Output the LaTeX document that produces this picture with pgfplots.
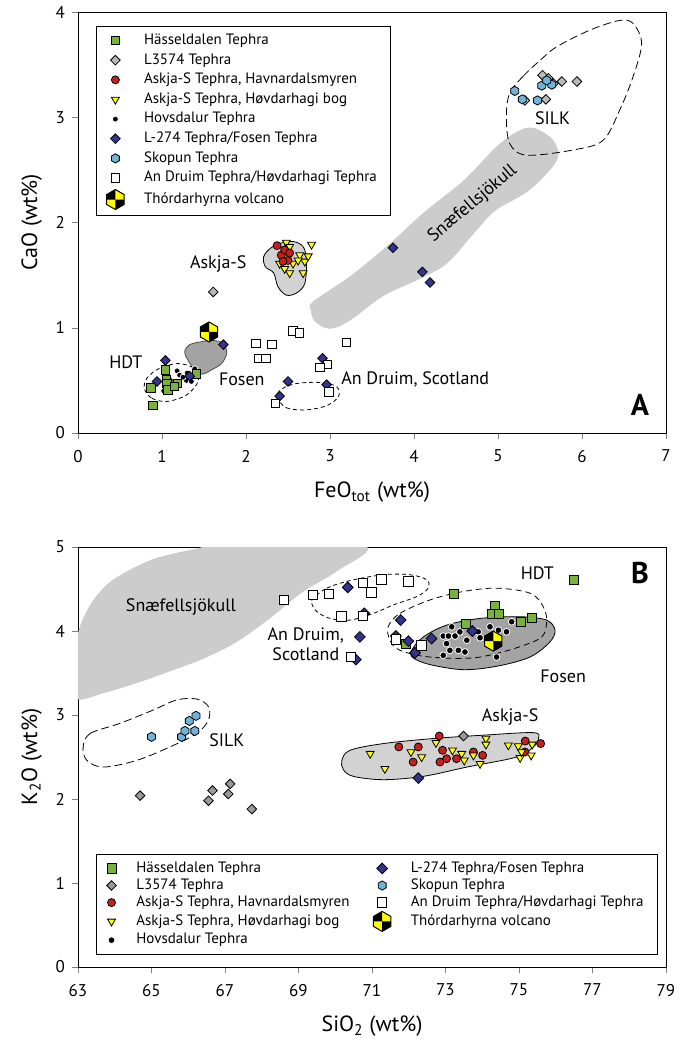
\documentclass[border=0pt]{standalone}
\usepackage{fontspec}
\setmainfont{PT Sans}
\usepackage{pgfplots}
\pgfplotsset{compat=1.18}
\usetikzlibrary{plotmarks}

\definecolor{hgreen}{RGB}{118,178,60}
\definecolor{askred}{RGB}{200,30,30}
\definecolor{askyel}{RGB}{255,255,0}
\definecolor{fosblue}{RGB}{52,52,140}
\definecolor{skoblue}{RGB}{110,180,215}
\definecolor{lgray}{RGB}{210,210,210}
\definecolor{bandgray}{RGB}{204,204,204}
\definecolor{dgray}{RGB}{163,163,163}

% pointy-top hexagon
\pgfdeclareplotmark{hexagon*}{%
  \pgfpathmoveto{\pgfqpoint{0pt}{\pgfplotmarksize}}%
  \pgfpathlineto{\pgfqpoint{-0.866\pgfplotmarksize}{0.5\pgfplotmarksize}}%
  \pgfpathlineto{\pgfqpoint{-0.866\pgfplotmarksize}{-0.5\pgfplotmarksize}}%
  \pgfpathlineto{\pgfqpoint{0pt}{-\pgfplotmarksize}}%
  \pgfpathlineto{\pgfqpoint{0.866\pgfplotmarksize}{-0.5\pgfplotmarksize}}%
  \pgfpathlineto{\pgfqpoint{0.866\pgfplotmarksize}{0.5\pgfplotmarksize}}%
  \pgfpathclose
  \pgfusepathqfillstroke}

% volcano symbol: quartered hexagon
\pgfdeclareplotmark{thord}{%
  \pgfpathmoveto{\pgfqpoint{0pt}{\pgfplotmarksize}}%
  \pgfpathlineto{\pgfqpoint{-0.866\pgfplotmarksize}{0.5\pgfplotmarksize}}%
  \pgfpathlineto{\pgfqpoint{-0.866\pgfplotmarksize}{-0.5\pgfplotmarksize}}%
  \pgfpathlineto{\pgfqpoint{0pt}{-\pgfplotmarksize}}%
  \pgfpathlineto{\pgfqpoint{0.866\pgfplotmarksize}{-0.5\pgfplotmarksize}}%
  \pgfpathlineto{\pgfqpoint{0.866\pgfplotmarksize}{0.5\pgfplotmarksize}}%
  \pgfpathclose
  \pgfsetfillcolor{askyel}\pgfusepathqfill
  \pgfpathmoveto{\pgfpointorigin}%
  \pgfpathlineto{\pgfqpoint{0pt}{\pgfplotmarksize}}%
  \pgfpathlineto{\pgfqpoint{-0.866\pgfplotmarksize}{0.5\pgfplotmarksize}}%
  \pgfpathlineto{\pgfqpoint{-0.866\pgfplotmarksize}{0pt}}%
  \pgfpathclose
  \pgfpathmoveto{\pgfpointorigin}%
  \pgfpathlineto{\pgfqpoint{0pt}{-\pgfplotmarksize}}%
  \pgfpathlineto{\pgfqpoint{0.866\pgfplotmarksize}{-0.5\pgfplotmarksize}}%
  \pgfpathlineto{\pgfqpoint{0.866\pgfplotmarksize}{0pt}}%
  \pgfpathclose
  \pgfsetfillcolor{black}\pgfusepathqfill
  \pgfpathmoveto{\pgfqpoint{0pt}{\pgfplotmarksize}}%
  \pgfpathlineto{\pgfqpoint{-0.866\pgfplotmarksize}{0.5\pgfplotmarksize}}%
  \pgfpathlineto{\pgfqpoint{-0.866\pgfplotmarksize}{-0.5\pgfplotmarksize}}%
  \pgfpathlineto{\pgfqpoint{0pt}{-\pgfplotmarksize}}%
  \pgfpathlineto{\pgfqpoint{0.866\pgfplotmarksize}{-0.5\pgfplotmarksize}}%
  \pgfpathlineto{\pgfqpoint{0.866\pgfplotmarksize}{0.5\pgfplotmarksize}}%
  \pgfpathclose
  \pgfusepathqstroke}

\tikzset{lab/.style={font=\fontsize{9}{10}\selectfont}}

\pgfplotsset{
  panel/.style={
    scale only axis, width=294pt,
    tick align=outside, tick pos=left, major tick length=3pt,
    tick label style={font=\fontsize{8.5}{9.5}\selectfont},
    xticklabel style={yshift=-2pt},
    label style={font=\fontsize{11}{12}\selectfont},
    xlabel style={yshift=-3pt},
    /pgf/number format/assume math mode=true,
    legend cell align=left,
    legend style={font=\fontsize{7.5}{9}\selectfont, draw=black, line width=0.5pt,
      inner xsep=5pt, inner ysep=3pt, nodes={inner ysep=0.7pt},
      /tikz/every odd column/.style={column sep=8pt}},
  },
  region/.style={no marks, smooth cycle, tension=0.55, forget plot, draw=none},
  outl/.style={no marks, smooth cycle, tension=0.55, forget plot, thin, black},
  hass/.style={only marks, mark=square*, mark size=2.1pt, mark options={fill=hgreen, draw=black, line width=0.4pt}},
  lthree/.style={only marks, mark=square*, mark size=1.7pt, mark options={rotate=45, fill=gray!55, draw=black, line width=0.4pt}},
  havn/.style={only marks, mark=*, mark size=2pt, mark options={fill=askred, draw=black, line width=0.4pt}},
  hovd/.style={only marks, mark=triangle*, mark size=2.3pt, mark options={rotate=180, fill=askyel, draw=black, line width=0.4pt}},
  hovs/.style={only marks, mark=*, mark size=1.5pt, mark options={fill=black, draw=white, line width=0.4pt}},
  lfos/.style={only marks, mark=square*, mark size=1.7pt, mark options={rotate=45, fill=fosblue, draw=black, line width=0.4pt}},
  skop/.style={only marks, mark=hexagon*, mark size=2.3pt, mark options={fill=skoblue, draw=black, line width=0.4pt}},
  andr/.style={only marks, mark=square*, mark size=2.1pt, mark options={fill=white, draw=black, line width=0.5pt}},
  thor/.style={only marks, mark=thord, mark size=5pt, mark options={draw=black, line width=0.5pt}},
}

\begin{document}
\begin{tikzpicture}
\path[use as bounding box] (-39pt,6pt) rectangle (303pt,-514pt);

% ---------------- panel A ----------------
\begin{axis}[panel, at={(0pt,0pt)}, anchor=north west, height=210.5pt,
  xmin=0, xmax=7, ymin=0, ymax=4,
  xtick={0,...,7}, ytick={0,...,4},
  xlabel={FeO\textsubscript{tot} (wt\%)}, ylabel={CaO (wt\%)},
  legend style={at={(0.031,0.967)}, anchor=north west, row sep=1.6pt},
]
% regions
\addplot[region, fill=bandgray] coordinates {(2.80,1.25) (3.24,1.49) (3.67,1.77) (4.11,2.09) (4.59,2.40) (4.98,2.72) (5.22,2.86) (5.42,2.90) (5.66,2.78) (5.70,2.59) (5.38,2.31) (4.98,2.12) (4.75,1.93) (4.39,1.61) (4.03,1.45) (3.63,1.30) (3.24,1.07) (3.00,0.99) (2.82,1.06) (2.77,1.17)};
\addplot[outl, fill=lgray] coordinates {(2.21,1.675) (2.29,1.755) (2.40,1.80) (2.56,1.82) (2.68,1.77) (2.72,1.64) (2.70,1.42) (2.60,1.33) (2.48,1.31) (2.38,1.39) (2.33,1.52) (2.23,1.58)};
\addplot[outl, fill=dgray, draw=black!70] coordinates {(1.27,0.77) (1.33,0.84) (1.49,0.87) (1.61,0.88) (1.73,0.85) (1.77,0.76) (1.71,0.66) (1.59,0.60) (1.49,0.56) (1.41,0.58) (1.31,0.69)};
\addplot[outl, dash pattern=on 2pt off 1.5pt] coordinates {(0.79,0.42) (0.88,0.33) (1.06,0.30) (1.29,0.36) (1.43,0.49) (1.39,0.61) (1.19,0.66) (0.96,0.61) (0.82,0.52)};
\addplot[outl, dash pattern=on 2pt off 1.5pt] coordinates {(2.37,0.345) (2.48,0.24) (2.72,0.22) (2.96,0.26) (3.10,0.345) (3.08,0.44) (2.88,0.48) (2.60,0.47) (2.43,0.42)};
\addplot[outl, dash pattern=on 4pt off 2pt] coordinates {(5.14,3.23) (5.30,3.39) (5.50,3.54) (5.70,3.67) (6.10,3.83) (6.45,3.92) (6.61,3.89) (6.71,3.70) (6.61,3.39) (6.45,3.07) (6.25,2.78) (5.90,2.69) (5.34,2.64) (5.14,2.75) (5.10,3.01)};
% data (drawn in reference layering; legend added below)
\addplot[hovs, forget plot] coordinates {(1.18,0.59) (1.21,0.55) (1.29,0.50) (1.35,0.49) (1.39,0.61) (1.02,0.40) (1.13,0.42) (1.25,0.53) (1.19,0.46) (1.30,0.57) (1.10,0.50)};
\addplot[hass, forget plot] coordinates {(1.04,0.60) (1.05,0.51) (1.06,0.47) (0.87,0.43) (1.07,0.41) (1.18,0.47) (1.41,0.56) (0.89,0.26) (1.15,0.44)};
\addplot[lthree, forget plot] coordinates {(1.61,1.34) (5.53,3.40) (5.66,3.32) (5.76,3.34) (5.94,3.34) (5.32,3.16) (5.57,3.17) (5.60,3.37)};
\addplot[hovd, forget plot] coordinates {(2.48,1.81) (2.78,1.79) (2.40,1.61) (2.46,1.56) (2.52,1.52) (2.64,1.69) (2.70,1.63) (2.74,1.68) (2.68,1.52) (2.56,1.61) (2.62,1.64) (2.52,1.77) (2.48,1.68)};
\addplot[havn, forget plot] coordinates {(2.37,1.78) (2.42,1.69) (2.46,1.74) (2.50,1.64) (2.44,1.63) (2.52,1.71)};
\addplot[lfos, forget plot] coordinates {(1.04,0.69) (0.94,0.49) (1.33,0.54) (1.73,0.84) (2.50,0.49) (2.40,0.35) (2.91,0.71) (2.96,0.46) (3.75,1.76) (4.10,1.53) (4.19,1.43)};
\addplot[skop, forget plot] coordinates {(5.20,3.25) (5.52,3.30) (5.64,3.31) (5.29,3.17) (5.47,3.16) (5.58,3.35)};
\addplot[andr, forget plot] coordinates {(2.56,0.97) (2.64,0.95) (2.12,0.85) (2.31,0.84) (2.15,0.71) (2.24,0.71) (3.20,0.86) (2.97,0.65) (2.88,0.62) (2.99,0.39) (2.35,0.28)};
\addplot[thor, forget plot] coordinates {(1.56,0.96)};
\addlegendimage{hass}\addlegendentry{Hässeldalen Tephra}
\addlegendimage{lthree}\addlegendentry{L3574 Tephra}
\addlegendimage{havn}\addlegendentry{Askja-S Tephra, Havnardalsmyren}
\addlegendimage{hovd}\addlegendentry{Askja-S Tephra, Høvdarhagi bog}
\addlegendimage{hovs}\addlegendentry{Hovsdalur Tephra}
\addlegendimage{lfos}\addlegendentry{L-274 Tephra/Fosen Tephra}
\addlegendimage{skop}\addlegendentry{Skopun Tephra}
\addlegendimage{andr}\addlegendentry{An Druim Tephra/Høvdarhagi Tephra}
\addlegendimage{thor}\addlegendentry{Thórdarhyrna volcano}
% labels
\node[lab, rotate=40] at (axis cs:4.70,2.18) {Snæfellsjökull};
\node[lab] at (axis cs:0.57,0.675) {HDT};
\node[lab] at (axis cs:1.95,0.51) {Fosen};
\node[lab, anchor=west, inner xsep=0pt] at (axis cs:3.13,0.51) {An Druim, Scotland};
\node[lab] at (axis cs:1.67,1.61) {Askja-S};
\node[lab] at (axis cs:5.65,2.99) {SILK};
\node[font=\fontsize{15}{16}\selectfont\bfseries] at (axis cs:6.69,0.27) {A};
\end{axis}

% ---------------- panel B ----------------
\begin{axis}[panel, at={(0pt,-267.5pt)}, anchor=north west, height=210pt,
  xmin=63, xmax=79, ymin=0, ymax=5,
  xtick={63,65,...,79}, ytick={0,...,5},
  xlabel={SiO\textsubscript{2} (wt\%)}, ylabel={K\textsubscript{2}O (wt\%)},
  legend columns=5, transpose legend,
  legend style={at={(0.031,0.029)}, anchor=south west, row sep=0.3pt, /tikz/column 2/.style={column sep=10pt}},
]
% regions
\addplot[region, fill=bandgray] coordinates {(63.01,3.99) (63.33,4.31) (63.78,4.55) (64.33,4.71) (65.14,4.87) (66.23,4.98) (66.86,5.02) (70.76,5.02) (70.04,4.71) (69.13,4.47) (68.22,4.15) (67.32,3.87) (66.41,3.67) (65.50,3.52) (64.60,3.38) (63.69,3.26) (62.95,3.20) (62.95,3.60)};
\addplot[outl, fill=lgray] coordinates {(70.18,2.46) (70.40,2.58) (71.31,2.66) (72.67,2.72) (74.03,2.76) (75.39,2.79) (75.53,2.72) (75.39,2.62) (74.94,2.50) (73.58,2.38) (72.40,2.27) (71.31,2.23) (70.49,2.27) (70.22,2.35)};
\addplot[outl, fill=dgray] coordinates {(72.08,3.77) (72.40,3.93) (73.03,4.07) (73.94,4.15) (75.03,4.17) (75.75,4.13) (75.98,4.01) (75.84,3.87) (75.30,3.69) (74.39,3.58) (73.48,3.54) (72.58,3.60) (72.12,3.68)};
\addplot[outl, dash pattern=on 3pt off 2pt] coordinates {(71.44,4.05) (71.76,4.21) (72.58,4.37) (73.48,4.47) (74.39,4.51) (75.30,4.45) (75.66,4.29) (75.75,4.09) (75.48,3.89) (73.94,3.69) (72.58,3.69) (71.76,3.77) (71.49,3.89)};
\addplot[outl, dash pattern=on 2pt off 1.5pt] coordinates {(69.40,4.39) (69.77,4.51) (70.40,4.60) (71.31,4.67) (72.03,4.67) (72.49,4.61) (72.53,4.51) (72.22,4.41) (71.58,4.31) (71.04,4.21) (70.40,4.13) (69.86,4.15) (69.50,4.23) (69.36,4.33)};
\addplot[outl, dash pattern=on 4pt off 2pt] coordinates {(63.14,2.62) (63.33,2.78) (64.14,2.90) (65.05,3.06) (65.69,3.18) (66.23,3.19) (66.55,3.10) (66.55,2.94) (66.23,2.78) (65.50,2.62) (64.60,2.46) (63.69,2.38) (63.24,2.46)};
% data
\addplot[hass, mark size=2.3pt] coordinates {(73.23,4.44) (74.34,4.30) (74.27,4.20) (74.46,4.20) (75.35,4.16) (75.05,4.11) (73.56,4.08) (71.93,3.85) (76.50,4.61)};
\addlegendentry{Hässeldalen Tephra}
\addplot[lthree, mark options={rotate=45, fill=gray!80, draw=black, line width=0.4pt}] coordinates {(64.69,2.04) (66.66,2.10) (66.55,1.98) (67.14,2.18) (67.09,2.06) (67.73,1.88) (73.49,2.75)};
\addlegendentry{L3574 Tephra}
\addplot[havn] coordinates {(71.73,2.62) (72.83,2.75) (72.26,2.62) (72.12,2.44) (72.92,2.58) (73.03,2.48) (72.85,2.44) (73.30,2.48) (73.76,2.56) (74.01,2.52) (75.17,2.69) (75.59,2.66) (75.16,2.56)};
\addlegendentry{Askja-S Tephra, Havnardalsmyren}
\addplot[hovd] coordinates {(70.95,2.54) (71.35,2.36) (72.06,2.56) (72.35,2.50) (72.74,2.67) (73.19,2.58) (73.44,2.54) (73.51,2.46) (73.76,2.52) (73.94,2.42) (74.10,2.72) (74.10,2.65) (74.71,2.64) (74.98,2.63) (75.03,2.49) (75.07,2.56) (75.33,2.52) (75.36,2.65)};
\addlegendentry{Askja-S Tephra, Høvdarhagi bog}
\addplot[hovs, mark size=1.7pt] coordinates {(73.17,4.05) (72.94,3.94) (73.08,3.94) (73.26,3.94) (73.39,3.99) (73.58,3.89) (73.03,3.85) (73.12,3.77) (73.35,3.77) (73.53,3.75) (73.89,3.99) (73.94,3.92) (74.21,4.05) (74.44,4.01) (74.66,3.99) (74.80,4.11) (74.35,3.89) (74.39,3.69) (72.94,3.71)};
\addlegendentry{Hovsdalur Tephra}
\addplot[lfos, mark size=1.9pt] coordinates {(70.34,4.52) (70.79,4.21) (71.78,4.13) (70.67,3.93) (71.65,3.94) (71.99,3.88) (72.17,3.74) (70.56,3.66) (72.62,3.91) (73.73,4.00) (72.26,2.25)};
\addlegendentry{L-274 Tephra/Fosen Tephra}
\addplot[skop] coordinates {(65.00,2.74) (65.82,2.74) (65.91,2.81) (66.18,2.81) (66.03,2.93) (66.21,2.99)};
\addlegendentry{Skopun Tephra}
\addplot[andr, mark size=2.4pt] coordinates {(68.61,4.37) (69.40,4.43) (69.83,4.44) (70.76,4.57) (71.26,4.61) (71.99,4.59) (70.99,4.46) (70.17,4.17) (70.76,4.18) (71.65,3.90) (72.35,3.83) (70.43,3.69)};
\addlegendentry{An Druim Tephra/Høvdarhagi Tephra}
\addplot[thor] coordinates {(74.30,3.88)};
\addlegendentry{Thórdarhyrna volcano}
% labels
\node[lab] at (axis cs:65.80,4.29) {Snæfellsjökull};
\node[lab, align=center] at (axis cs:69.20,3.84) {An Druim,\\Scotland};
\node[lab] at (axis cs:75.50,4.69) {HDT};
\node[lab] at (axis cs:76.20,3.46) {Fosen};
\node[lab] at (axis cs:67.05,2.70) {SILK};
\node[lab] at (axis cs:74.76,2.98) {Askja-S};
\node[font=\fontsize{15}{16}\selectfont\bfseries] at (axis cs:78.29,4.69) {B};
\end{axis}
\end{tikzpicture}
\end{document}
